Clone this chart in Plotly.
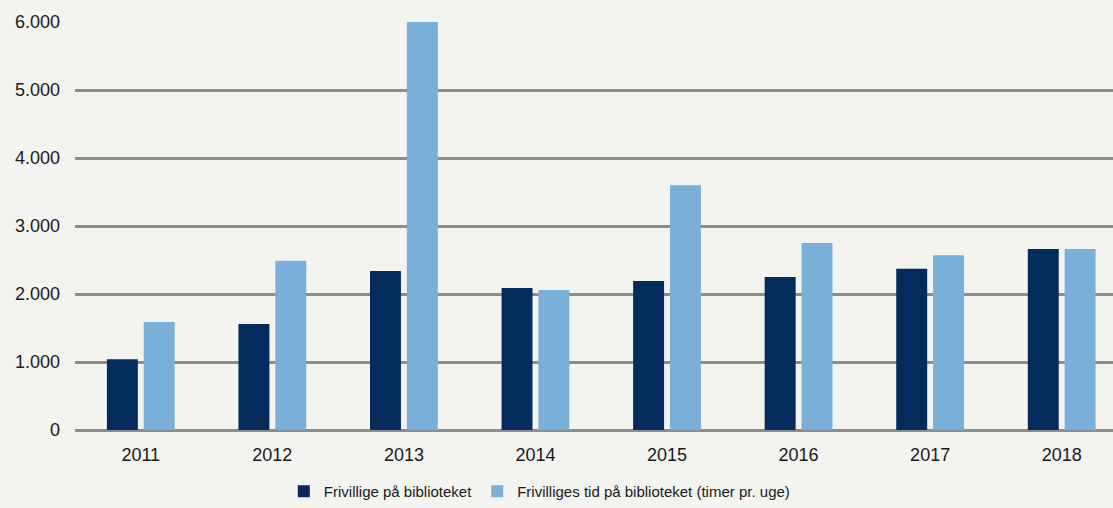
import plotly.graph_objects as go

years = ["2011", "2012", "2013", "2014", "2015", "2016", "2017", "2018"]
frivillige = [1040, 1560, 2340, 2090, 2190, 2250, 2370, 2660]
timer = [1590, 2490, 6000, 2060, 3600, 2750, 2570, 2660]
y_ticks = [0, 1000, 2000, 3000, 4000, 5000, 6000]
y_tick_labels = ["0", "1.000", "2.000", "3.000", "4.000", "5.000", "6.000"]

bg = "#f3f3ef"
grid = "#8c8e8e"

fig = go.Figure()
fig.add_trace(go.Bar(x=years, y=frivillige, name="Frivillige på biblioteket",
                     marker=dict(color="#032c5c", line=dict(width=0))))
fig.add_trace(go.Bar(x=years, y=timer, name="Frivilliges tid på biblioteket (timer pr. uge)",
                     marker=dict(color="#7aafd9", line=dict(width=0))))

fig.update_layout(
    width=1113, height=508,
    paper_bgcolor=bg, plot_bgcolor=bg,
    margin=dict(l=75, r=0, t=22, b=78, autoexpand=False),
    barmode="group", bargap=0.44, bargroupgap=0.16,
    font=dict(family="Liberation Sans, Arial, sans-serif", size=18, color="#1a1a1a"),
    xaxis=dict(type="category", range=[-0.5, 7.39], showgrid=False,
               ticks="", showline=False, tickfont=dict(size=18),
               ticklabelstandoff=12, automargin=False),
    yaxis=dict(range=[0, 6000], tickvals=y_ticks, ticktext=y_tick_labels,
               showgrid=True, gridcolor=grid, gridwidth=3,
               zeroline=True, zerolinecolor=grid, zerolinewidth=3,
               showline=False, ticks="", ticklabelstandoff=14,
               tickfont=dict(size=18), automargin=False),
    legend=dict(orientation="h", x=0.485, xref="container", xanchor="center",
                y=-0.025, yref="container", yanchor="bottom",
                font=dict(family="Liberation Sans Narrow, Liberation Sans, sans-serif",
                          size=15, color="#1a1a1a"),
                bgcolor="rgba(0,0,0,0)", itemwidth=30, tracegroupgap=0),
    showlegend=True,
)

fig.write_html("out.html")
